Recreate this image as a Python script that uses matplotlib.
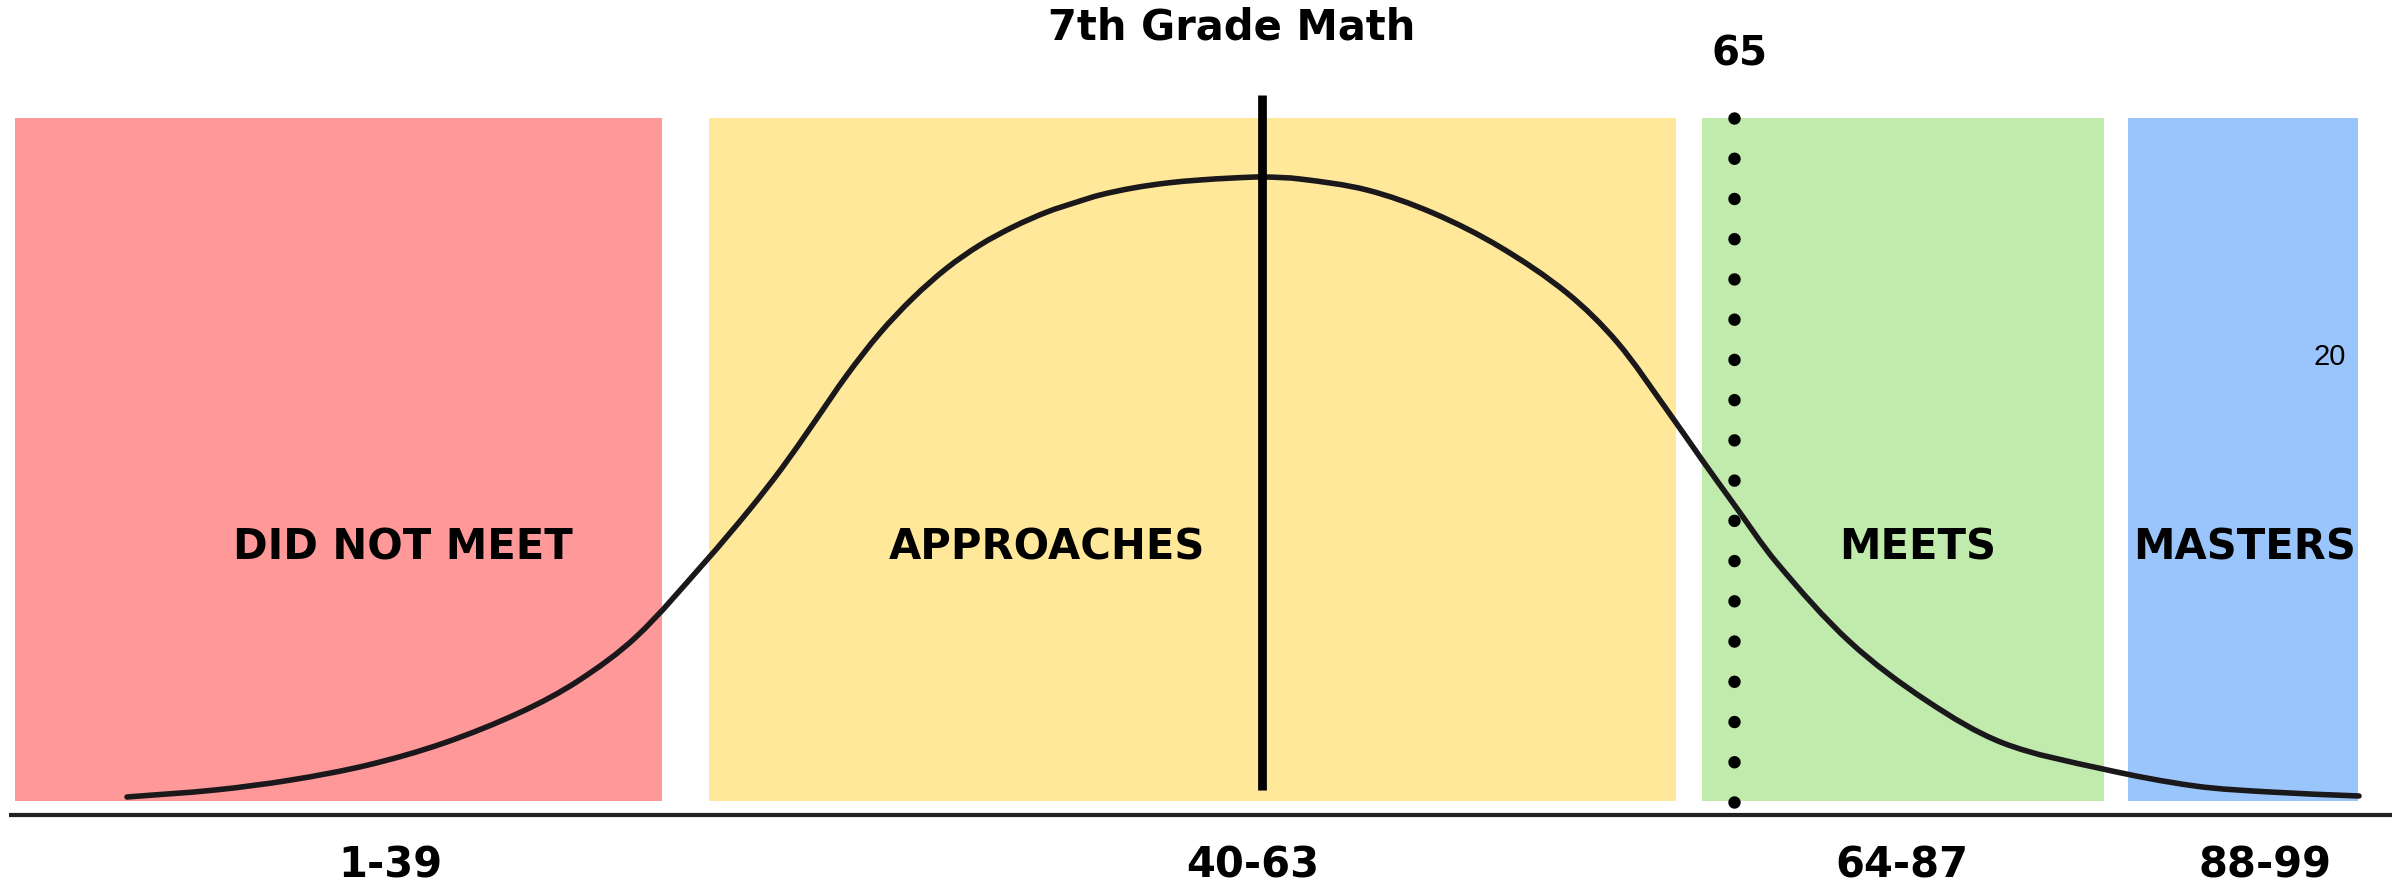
import matplotlib
matplotlib.use("Agg")
import numpy as np
import matplotlib.pyplot as plt
from matplotlib.path import Path
from matplotlib.patches import PathPatch

# ---- data ----
title = "7th Grade Math"
band_names = ["DID NOT MEET", "APPROACHES", "MEETS", "MASTERS"]
band_ranges = ["1-39", "40-63", "64-87", "88-99"]
band_left = [15, 709, 1702, 2128]
band_right = [662, 1676, 2104, 2358]
band_colors = ["#FF9898", "#FFE899", "#C1EBAD", "#9AC5FC"]
band_top = 118
band_bottom = 801

curve_x = [127, 215, 291, 368, 444, 521, 578, 636, 705, 750, 782, 813, 847, 880,
           913, 947, 980, 1013, 1047, 1077, 1100, 1133, 1167, 1200, 1233, 1263,
           1300, 1367, 1433, 1500, 1567, 1617, 1667, 1700, 1733, 1777, 1850, 1927,
           2003, 2103, 2195, 2270, 2359]
curve_y = [797, 790, 780, 765, 743, 712, 681, 637, 562, 509, 468, 424, 375, 333,
           298, 268, 245, 227, 212, 202, 195, 188, 183, 180, 178, 177,
           179, 190, 213, 247, 293, 342, 410, 457, 503, 563, 642, 701,
           743, 769, 786, 792, 796]

mean_x = 1262
mean_top, mean_bottom = 95, 790
score_x = 1734
score_label = "65"
score_top, score_bottom = 118, 802
extra_note = "20"

# ---- figure ----
W, H = 2402, 886
fig = plt.figure(figsize=(W / 100, H / 100), dpi=100)
ax = fig.add_axes([0, 0, 1, 1])
ax.set_xlim(0, W)
ax.set_ylim(H, 0)
ax.axis("off")

bold = dict(family=["DejaVu Sans"], fontweight="bold", color="#000000")

for l, r, c in zip(band_left, band_right, band_colors):
    ax.add_patch(plt.Rectangle((l, band_top), r - l, band_bottom - band_top,
                               facecolor=c, edgecolor="none", zorder=1))

# baseline
ax.plot([9, 2392], [815, 815], color="#222222", lw=3.0, solid_capstyle="butt", zorder=2)

# bell curve: smooth Bezier path through the read points
pts = np.column_stack([curve_x, curve_y]).astype(float)
n = len(pts)
tang = np.zeros_like(pts)
for i in range(n):
    a = pts[max(i - 1, 0)]
    b = pts[min(i + 1, n - 1)]
    t = b - a
    tang[i] = t / np.hypot(*t)
verts = [pts[0]]
codes = [Path.MOVETO]
for i in range(n - 1):
    seg = np.hypot(*(pts[i + 1] - pts[i])) / 3
    verts += [pts[i] + tang[i] * seg, pts[i + 1] - tang[i + 1] * seg, pts[i + 1]]
    codes += [Path.CURVE4] * 3
ax.add_patch(PathPatch(Path(np.array(verts), codes), facecolor="none",
                       edgecolor="#1a181b", lw=4.0, capstyle="round",
                       joinstyle="round", zorder=3))

# mean line
ax.plot([mean_x, mean_x], [mean_top, mean_bottom], color="#000000", lw=6.3,
        solid_capstyle="butt", zorder=4)

# dotted score line
lw_dot = 9.0
gap = (score_bottom - score_top) / 17 * 0.72 / lw_dot
ax.plot([score_x, score_x], [score_top, score_bottom + 3], color="#000000", lw=lw_dot,
        linestyle=(0, (0.001, gap - 0.001)), dash_capstyle="round", zorder=4)

# texts
ax.text(1232, 27, title, ha="center", va="center", fontsize=30, **bold)
ax.text(1740, 54, score_label, ha="center", va="center", fontsize=29, **bold)

name_x = [403, 1047, 1918, 2245]
for x, name in zip(name_x, band_names):
    ax.text(x, 547, name, ha="center", va="center", fontsize=30, **bold)

range_x = [390, 1253, 1902, 2265]
for x, rng in zip(range_x, band_ranges):
    ax.text(x, 866, rng, ha="center", va="center", fontsize=30, **bold)

ax.text(2330, 357, extra_note, ha="center", va="center", fontsize=21,
        family=["Liberation Sans", "DejaVu Sans"], color="#000000")

fig.savefig("out.png", dpi=100)
